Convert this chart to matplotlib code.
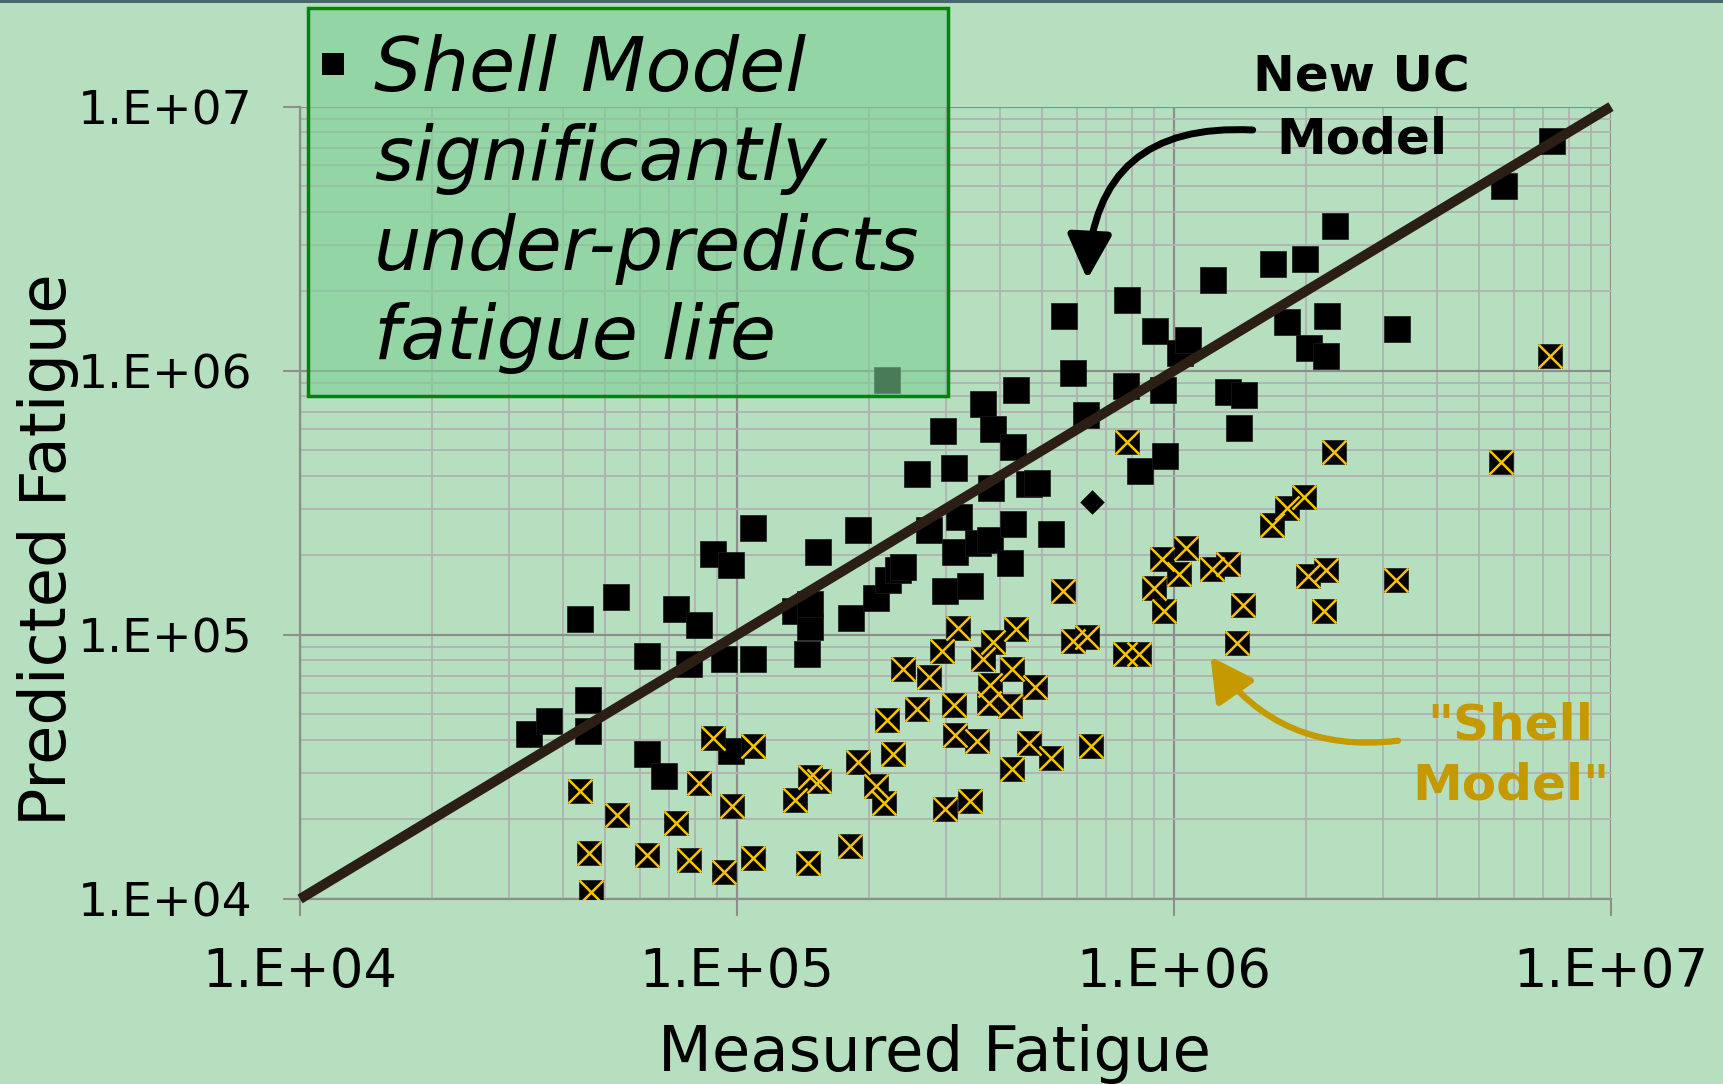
import numpy as np
import matplotlib
matplotlib.use("Agg")
import matplotlib.pyplot as plt
from matplotlib.patches import Rectangle, FancyArrowPatch
from matplotlib.ticker import FixedLocator, LogLocator, NullFormatter

# ---------------- data ----------------
uc_measured = [3.35e4, 3.72e4, 4.37e4, 4.57e4, 4.57e4, 5.29e4, 6.21e4, 6.21e4, 6.80e4, 7.26e4,
               7.75e4, 8.18e4, 8.79e4, 9.33e4, 9.69e4, 9.70e4, 1.088e5, 1.088e5, 1.448e5, 1.357e5,
               1.468e5, 1.468e5, 1.534e5, 1.822e5, 1.894e5, 2.08e5, 2.22e5, 2.34e5, 2.40e5, 2.58e5,
               2.75e5, 2.96e5, 2.99e5, 3.13e5, 3.15e5, 3.22e5, 3.41e5, 3.56e5, 3.66e5, 3.79e5,
               3.86e5, 4.28e5, 4.21e5, 4.28e5, 4.36e5, 4.65e5, 4.85e5, 5.22e5, 5.60e5, 5.88e5,
               6.29e5, 7.81e5, 7.75e5, 8.34e5, 9.04e5, 9.53e5, 9.44e5, 1.031e6, 1.074e6, 1.229e6,
               1.33e6, 1.447e6, 1.407e6, 1.686e6, 1.816e6, 1.993e6, 2.04e6, 2.23e6, 2.245e6, 2.33e6,
               3.23e6, 5.69e6, 7.31e6, 2.21e5, 3.82e5]
uc_predicted = [4.20e4, 4.73e4, 1.147e5, 5.66e4, 4.33e4, 1.387e5, 8.29e4, 3.54e4, 2.92e4, 1.249e5,
                7.73e4, 1.086e5, 2.02e5, 8.12e4, 1.838e5, 3.64e4, 8.07e4, 2.53e5, 8.46e4, 1.23e5,
                1.073e5, 1.308e5, 2.06e5, 1.161e5, 2.49e5, 1.375e5, 1.612e5, 1.759e5, 1.805e5, 4.05e5,
                2.49e5, 5.93e5, 1.469e5, 4.30e5, 2.06e5, 2.79e5, 1.533e5, 2.22e5, 7.48e5, 2.28e5,
                6.00e5, 5.15e5, 1.864e5, 2.64e5, 8.45e5, 3.71e5, 3.75e5, 2.40e5, 1.616e6, 9.77e5,
                6.80e5, 1.852e6, 8.78e5, 4.19e5, 1.418e6, 4.77e5, 8.45e5, 1.164e6, 1.312e6, 2.20e6,
                8.32e5, 8.08e5, 6.09e5, 2.53e6, 1.527e6, 2.65e6, 1.217e6, 1.136e6, 1.615e6, 3.54e6,
                1.443e6, 4.99e6, 7.40e6, 9.22e5, 3.59e5]

shell_measured = [4.37e4, 5.32e4, 7.27e4, 4.59e4, 6.24e4, 7.76e4, 9.33e4, 1.09e5, 4.63e4, 8.18e4,
                  8.82e4, 1.09e5, 9.72e4, 1.361e5, 1.468e5, 1.539e5, 1.887e5, 2.08e5, 2.17e5, 2.20e5,
                  2.27e5, 2.40e5, 1.451e5, 1.818e5, 7.79e5, 1.68e6, 1.81e6, 9.41e5, 1.068e6, 1.026e6,
                  1.223e6, 1.326e6, 9.01e5, 9.49e5, 1.44e6, 5.58e5, 1.397e6, 3.21e5, 4.36e5, 3.85e5,
                  2.95e5, 5.88e5, 6.31e5, 7.72e5, 8.32e5, 2.75e5, 3.66e5, 4.25e5, 3.79e5, 4.82e5,
                  2.58e5, 3.13e5, 3.78e5, 4.21e5, 3.15e5, 3.55e5, 4.65e5, 5.22e5, 6.45e5, 4.27e5,
                  2.99e5, 3.41e5, 7.24e6, 2.32e6, 5.61e6, 1.98e6, 2.03e6, 2.23e6, 3.22e6, 2.21e6]
shell_predicted = [2.57e4, 2.08e4, 1.943e4, 1.487e4, 1.466e4, 1.404e4, 1.267e4, 1.432e4, 1.064e4, 2.75e4,
                   4.06e4, 3.79e4, 2.25e4, 2.37e4, 2.90e4, 2.79e4, 3.31e4, 2.68e4, 2.31e4, 4.75e4,
                   3.54e4, 7.40e4, 1.364e4, 1.585e4, 5.39e5, 2.60e5, 3.03e5, 1.935e5, 2.13e5, 1.699e5,
                   1.776e5, 1.848e5, 1.508e5, 1.234e5, 1.297e5, 1.469e5, 9.33e4, 1.063e5, 1.051e5, 9.41e4,
                   8.70e4, 9.49e4, 9.84e4, 8.46e4, 8.46e4, 6.94e4, 8.07e4, 7.40e4, 6.45e4, 6.33e4,
                   5.24e4, 5.42e4, 5.53e4, 5.39e4, 4.17e4, 3.96e4, 3.90e4, 3.42e4, 3.80e4, 3.10e4,
                   2.20e4, 2.36e4, 1.136e6, 4.93e5, 4.53e5, 3.34e5, 1.675e5, 1.753e5, 1.612e5, 1.227e5]

diamond_measured = [6.49e5]
diamond_predicted = [3.19e5]

line_x = [1e4, 1e7]
line_y = [1e4, 1e7]

axis_ticks = [1e4, 1e5, 1e6, 1e7]
x_tick_labels = ["1.E+04", "1.E+05", "1.E+06", "1.E+07"]
y_tick_labels = ["1.E+04", "1.E+05", "1.E+06", "1.E+07"]

box_lines = ["Shell Model", "significantly", "under-predicts", "fatigue life"]

# ---------------- style ----------------
W, H = 1723, 1084
BG = "#b6dfbf"
GOLD = "#c49a00"


def fx(px):
    return px / W


def fy(py):
    return 1 - py / H


fig = plt.figure(figsize=(W / 100, H / 100), dpi=100)
fig.patch.set_facecolor(BG)

ax = fig.add_axes([fx(300), fy(899), (1611 - 300) / W, (899 - 106.6) / H])
ax.set_facecolor(BG)
ax.set_xscale("log")
ax.set_yscale("log")
ax.set_xlim(1e4, 1e7)
ax.set_ylim(1e4, 1e7)

for axis in (ax.xaxis, ax.yaxis):
    axis.set_major_locator(FixedLocator(axis_ticks))
    axis.set_minor_locator(LogLocator(base=10, subs=np.arange(2, 10)))
    axis.set_minor_formatter(NullFormatter())
ax.set_xticks(axis_ticks, labels=x_tick_labels)
ax.set_yticks(axis_ticks, labels=y_tick_labels)

ax.set_axisbelow(True)
ax.grid(which="minor", color="#b2b2b2", lw=1.3)
ax.grid(which="major", color="#8e8e8e", lw=1.6)
ax.tick_params(which="major", direction="out", length=12, width=1.5, color="#8e8e8e")
ax.tick_params(which="minor", length=0)
ax.tick_params(axis="x", labelsize=38, pad=22)
ax.tick_params(axis="y", labelsize=34, pad=22)
for side in ("top", "right"):
    ax.spines[side].set_visible(False)
for side in ("left", "bottom"):
    ax.spines[side].set_color("#8e8e8e")
    ax.spines[side].set_linewidth(1.6)

# markers
ax.scatter(uc_measured, uc_predicted, marker="s", s=18.7 ** 2, c="black",
           edgecolors="#1a1a1a", linewidths=0.5, zorder=3)
ax.scatter(shell_measured, shell_predicted, marker="s", s=17.3 ** 2, c="black",
           edgecolors="#1a1a1a", linewidths=0.5, zorder=3)
ax.scatter(shell_measured, shell_predicted, marker="x", s=17.3 ** 2, c="#f7c300",
           linewidths=1.8, zorder=3)
ax.scatter(diamond_measured, diamond_predicted, marker="D", s=12.5 ** 2, c="black",
           linewidths=0, zorder=3)

# 1:1 line
ax.plot(line_x, line_y, color="#2b1f15", lw=7.2, solid_capstyle="butt",
        clip_on=False, zorder=4)

# axis labels
fig.text(fx(66), fy(549.5), "Predicted Fatigue", rotation=90, rotation_mode="anchor",
         ha="center", va="baseline", fontsize=46)
fig.text(fx(934), fy(1071.5), "Measured Fatigue", ha="center", va="baseline", fontsize=45)

# top strip
fig.add_artist(Rectangle((0, fy(3)), 1, 3 / H, transform=fig.transFigure,
                         facecolor="#4a6670", edgecolor="none", zorder=2))

# callout box
fig.add_artist(Rectangle((fx(307.7), fy(395.7)), (948.3 - 307.7) / W, (395.7 - 8.3) / H,
                         transform=fig.transFigure,
                         facecolor=(125 / 255, 207 / 255, 149 / 255, 0.6),
                         edgecolor="#0a820a", lw=2.5, zorder=5))
fig.add_artist(Rectangle((fx(321.5), fy(75)), 22.3 / W, 22 / H, transform=fig.transFigure,
                         facecolor="black", edgecolor="none", zorder=6))
for line, base in zip(box_lines, [90.7, 180, 270, 359.3]):
    fig.text(fx(373.7), fy(base), line, style="italic", fontsize=54,
             ha="left", va="baseline", zorder=6)

# annotations
fig.text(fx(1361.5), fy(91.7), "New UC", fontsize=36, fontweight="bold",
         ha="center", va="baseline", zorder=6)
fig.text(fx(1361.5), fy(153.6), "Model", fontsize=36, fontweight="bold",
         ha="center", va="baseline", zorder=6)
fig.text(fx(1510.5), fy(739.3), '"Shell', fontsize=36, fontweight="bold", color=GOLD,
         ha="center", va="baseline", zorder=6)
fig.text(fx(1510.5), fy(800), 'Model"', fontsize=36, fontweight="bold", color=GOLD,
         ha="center", va="baseline", zorder=6)

arrow_black = FancyArrowPatch((fx(1252.7), fy(130)), (fx(1087.3), fy(279.3)),
                              transform=fig.transFigure,
                              connectionstyle="arc3,rad=0.5",
                              arrowstyle="-|>,head_length=27,head_width=13.5",
                              mutation_scale=1, lw=5, color="black",
                              shrinkA=0, shrinkB=0, zorder=6)
fig.add_artist(arrow_black)
arrow_gold = FancyArrowPatch((fx(1398), fy(740.7)), (fx(1210.5), fy(656.7)),
                             transform=fig.transFigure,
                             connectionstyle="arc3,rad=-0.3",
                             arrowstyle="-|>,head_length=26,head_width=14",
                             mutation_scale=1, lw=4.5, color=GOLD,
                             shrinkA=0, shrinkB=0, zorder=6)
fig.add_artist(arrow_gold)

fig.savefig("out.png", dpi=100, facecolor=BG)
